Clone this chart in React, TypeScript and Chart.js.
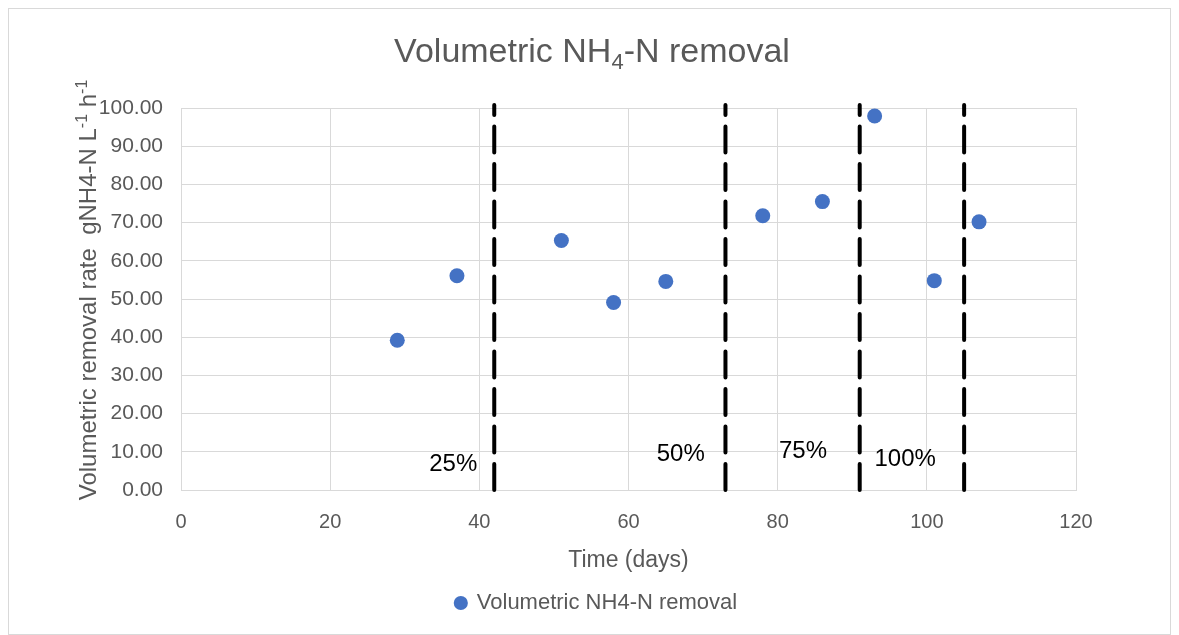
import React, { useEffect, useRef } from "react";
import { Chart, registerables } from "chart.js";

Chart.register(...registerables);

// ---- data ----
const days = [29, 37, 51, 58, 65, 78, 86, 93, 101, 107];
const removalRates = [39.2, 56.1, 65.3, 49.1, 54.6, 71.8, 75.5, 97.9, 54.8, 70.2];
const seriesName = "Volumetric NH4-N removal";

const phaseBoundaries = [42, 73, 91, 105];
const phaseLabels = ["25%", "50%", "75%", "100%"];
const phaseLabelX = [36.5, 67.0, 83.4, 97.1];
const phaseLabelY = [6.8, 9.4, 10.2, 8.1];

const xMin = 0;
const xMax = 120;
const xStep = 20;
const yMin = 0;
const yMax = 100;
const yStep = 10;

const FONT = "'Liberation Sans', Arial, sans-serif";
const TEXT = "#595959";

type Seg = { t: string; s?: "sub" | "sup" };
const titleSegs: Seg[] = [{ t: "Volumetric NH" }, { t: "4", s: "sub" }, { t: "-N removal" }];
const yTitleSegs: Seg[] = [
  { t: "Volumetric removal rate  gNH4-N L" },
  { t: "-1", s: "sup" },
  { t: " h" },
  { t: "-1", s: "sup" },
];

function drawSegs(ctx: CanvasRenderingContext2D, segs: Seg[], cx: number, cy: number, size: number) {
  const small = Math.round(size * 0.66);
  const widths = segs.map((s) => {
    ctx.font = `${s.s ? small : size}px ${FONT}`;
    return ctx.measureText(s.t).width;
  });
  const total = widths.reduce((a, b) => a + b, 0);
  let x = cx - total / 2;
  ctx.textBaseline = "alphabetic";
  ctx.textAlign = "left";
  segs.forEach((s, i) => {
    ctx.font = `${s.s ? small : size}px ${FONT}`;
    const dy = s.s === "sub" ? size * 0.22 : s.s === "sup" ? -size * 0.38 : 0;
    ctx.fillText(s.t, x, cy + dy);
    x += widths[i];
  });
}

const legendShiftPlugin = {
  id: "legendShift",
  afterLayout(chart: any) {
    const lg = chart.legend;
    if (lg) {
      lg.left += 54;
      lg.right += 54;
    }
  },
};

const textPlugin = {
  id: "customText",
  afterDraw(chart: any) {
    const ctx: CanvasRenderingContext2D = chart.ctx;
    const xs = chart.scales.x;
    const ys = chart.scales.y;
    ctx.save();
    ctx.fillStyle = TEXT;
    // title
    drawSegs(ctx, titleSegs, 583, 53, 34);
    // y-axis title
    ctx.save();
    ctx.translate(87, 281);
    ctx.rotate(-Math.PI / 2);
    drawSegs(ctx, yTitleSegs, 0, 0, 24);
    ctx.restore();
    // phase labels
    ctx.fillStyle = "#000";
    ctx.font = `24px ${FONT}`;
    ctx.textAlign = "center";
    ctx.textBaseline = "middle";
    phaseLabels.forEach((lab, i) => {
      ctx.fillText(lab, xs.getPixelForValue(phaseLabelX[i]), ys.getPixelForValue(phaseLabelY[i]));
    });
    ctx.restore();
  },
};

export default function App() {
  const ref = useRef<HTMLCanvasElement | null>(null);

  useEffect(() => {
    if (!ref.current) return;
    const boundaryDatasets = phaseBoundaries.map((b) => ({
      label: "boundary",
      data: [
        { x: b, y: 0 },
        { x: b, y: 100.8 },
      ],
      showLine: true,
      borderColor: "#000000",
      borderWidth: 4,
      borderDash: [26, 11.5],
      borderCapStyle: "round" as const,
      pointRadius: 0,
      pointHoverRadius: 0,
      clip: false as any,
      order: 2,
    }));

    const chart = new Chart(ref.current, {
      type: "scatter",
      data: {
        datasets: [
          {
            label: seriesName,
            data: days.map((d, i) => ({ x: d, y: removalRates[i] })),
            backgroundColor: "#4472C4",
            borderColor: "#4472C4",
            borderWidth: 0,
            pointRadius: 7.5,
            pointStyle: "circle",
            order: 1,
          },
          ...boundaryDatasets,
        ] as any,
      },
      options: {
        animation: false,
        responsive: false,
        maintainAspectRatio: false,
        layout: { padding: { top: 99, right: 94, bottom: 10, left: 0 } },
        plugins: {
          tooltip: { enabled: false },
          title: { display: false },
          legend: {
            position: "bottom",
            labels: {
              filter: (item: any) => item.datasetIndex === 0,
              usePointStyle: true,
              pointStyle: "circle",
              boxWidth: 10,
              boxHeight: 10,
              color: TEXT,
              font: { family: FONT, size: 22 },
              padding: 10,
            },
          },
        },
        scales: {
          x: {
            type: "linear",
            min: xMin,
            max: xMax,
            afterFit: (s: any) => {
              s.height = 92;
            },
            ticks: {
              stepSize: xStep,
              color: TEXT,
              font: { family: FONT, size: 20 },
              padding: 20,
            },
            grid: { color: "#d9d9d9", lineWidth: 1, drawTicks: false },
            border: { color: "#d9d9d9", width: 1 },
            title: {
              display: true,
              text: "Time (days)",
              color: TEXT,
              font: { family: FONT, size: 23 },
              padding: { top: 0, bottom: 8 },
            },
          },
          y: {
            type: "linear",
            min: yMin,
            max: yMax,
            afterFit: (s: any) => {
              s.width = 172;
            },
            ticks: {
              stepSize: yStep,
              color: TEXT,
              font: { family: FONT, size: 21 },
              padding: 18,
              callback: (v: any) => Number(v).toFixed(2),
            },
            grid: { color: "#d9d9d9", lineWidth: 1, drawTicks: false },
            border: { color: "#d9d9d9", width: 1 },
          },
        },
      },
      plugins: [legendShiftPlugin, textPlugin],
    });
    return () => chart.destroy();
  }, []);

  return (
    <div
      style={{
        width: 1163,
        height: 627,
        border: "1px solid #d9d9d9",
        boxSizing: "border-box",
        background: "#fff",
      }}
    >
      <canvas ref={ref} width={1161} height={625} style={{ display: "block" }} />
    </div>
  );
}
